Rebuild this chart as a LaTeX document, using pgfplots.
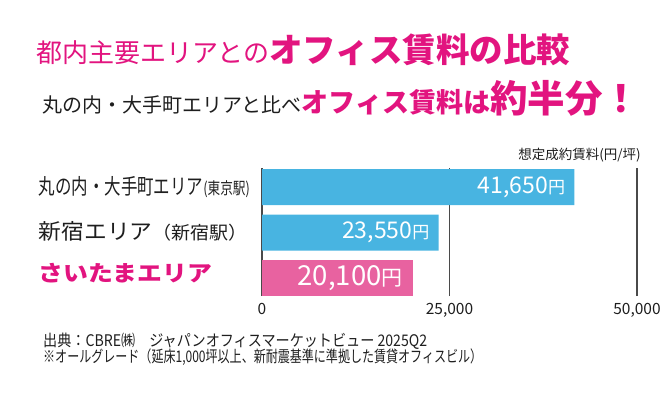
\documentclass[border=0pt]{standalone}
\usepackage{pgfplots}
\pgfplotsset{compat=1.18}
\usepackage{fontspec}
\usepackage{graphicx}
\setmainfont{Noto Sans CJK JP}
\definecolor{tpink}{HTML}{E2147F}
\definecolor{barblue}{HTML}{48B4E1}
\definecolor{barpink}{HTML}{E862A0}
\definecolor{gridgray}{HTML}{4A4A4A}
\definecolor{txt}{HTML}{1E1E1E}
\begin{document}
\begin{tikzpicture}
\path[use as bounding box] (0,0) rectangle (670bp,-394bp);
% titles
\node[anchor=base west, inner sep=0pt] at (36bp,-62bp)
  {\color{tpink}\fontsize{26bp}{26bp}\selectfont 都内主要エリアとの\fontsize{33.5bp}{33.5bp}\selectfont\bfseries オフィス賃料の比較};
\node[anchor=base west, inner sep=0pt] at (42bp,-112bp)
  {\color{txt}\fontsize{20bp}{20bp}\selectfont 丸の内・大手町エリアと比べ{\color{tpink}\bfseries\fontsize{27bp}{27bp}\selectfont オフィス賃料は\fontsize{37.5bp}{37.5bp}\selectfont 約半分！}};
% unit
\node[anchor=base east, inner sep=0pt, text=txt] at (641bp,-159bp)
  {\fontsize{13.5bp}{13.5bp}\selectfont 想定成約賃料(円/坪)};
\begin{axis}[
  at={(262bp,-296bp)}, anchor=south west,
  scale only axis, width=375bp, height=128bp,
  xmin=0, xmax=50000, ymin=-0.396, ymax=2.418,
  clip=false,
  axis line style={draw=none},
  major tick length=0pt,
  xtick={0,25000,50000},
  scaled x ticks=false,
  /pgf/number format/.cd, 1000 sep={,}, assume math mode=true,
  /pgfplots/.cd,
  xticklabel style={font=\fontsize{15.5bp}{15.5bp}\selectfont, text=txt, inner sep=0pt, yshift=-7bp},
  xmajorgrids,
  grid style={draw=gridgray, line width=1.3bp},
  ytick={0,1,2},
  yticklabels={
    {\raisebox{5bp}[\height][\depth]{\resizebox{173bp}{\height}{\color{tpink}\bfseries\fontsize{22bp}{22bp}\selectfont さいたまエリア}}},
    {\raisebox{1bp}[\height][\depth]{\resizebox{209bp}{\height}{\color{txt}\fontsize{21.5bp}{21.5bp}\selectfont 新宿エリア{\fontsize{18bp}{18bp}\selectfont （新宿駅）}}}},
    {\resizebox{211bp}{\height}{\color{txt}\fontsize{21.5bp}{21.5bp}\selectfont 丸の内・大手町エリア{\fontsize{16.5bp}{16.5bp}\selectfont (東京駅)}}}
  },
  yticklabel style={anchor=east, text width=223bp, align=left, inner sep=0pt},
  xbar, bar width=36bp, bar shift=0pt,
  nodes near coords={\pgfmathprintnumber{\pgfplotspointmeta}},
  point meta=x,
]
\addplot[fill=barblue, draw=none,
  nodes near coords={\pgfmathprintnumber{\pgfplotspointmeta}{\fontsize{17bp}{17bp}\selectfont 円}},
  every node near coord/.append style={anchor=east, xshift=-9bp, inner sep=0pt, text=white, font=\fontsize{23bp}{23bp}\selectfont}]
  coordinates {(41650,2) (23550,1)};
\addplot[fill=barpink, draw=none,
  nodes near coords={\pgfmathprintnumber{\pgfplotspointmeta}{\fontsize{21bp}{21bp}\selectfont 円}},
  every node near coord/.append style={anchor=east, xshift=-10bp, inner sep=0pt, text=white, font=\fontsize{27.5bp}{27.5bp}\selectfont}]
  coordinates {(20100,0)};
\end{axis}
% footnotes
\node[anchor=base west, inner sep=0pt] at (43bp,-346bp)
  {\resizebox{384bp}{\height}{\color{txt}\fontsize{16bp}{16bp}\selectfont 出典：CBRE㈱　ジャパンオフィスマーケットビュー 2025Q2}};
\node[anchor=base west, inner sep=0pt] at (43bp,-362bp)
  {\resizebox{439bp}{\height}{\color{txt}\fontsize{16bp}{16bp}\selectfont ※オールグレード（延床1,000坪以上、新耐震基準に準拠した賃貸オフィスビル）}};
\end{tikzpicture}
\end{document}
